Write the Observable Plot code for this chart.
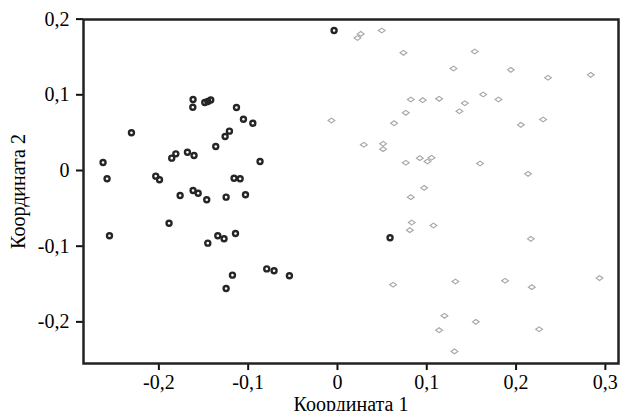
<!DOCTYPE html>
<html><head><meta charset="utf-8">
<script src="https://cdn.jsdelivr.net/npm/d3@7"></script>
<script src="https://cdn.jsdelivr.net/npm/@observablehq/plot@0.6"></script>
<style>body{margin:0;background:#fff}</style>
</head><body><div id="chart"></div>
<script>
const xTicks = [-0.2, -0.1, 0, 0.1, 0.2, 0.3];
const yTicks = [-0.2, -0.1, 0, 0.1, 0.2];
const xLabel = "Координата 1";
const yLabel = "Координата 2";

const darkX = [-0.0038, -0.1617, -0.162, -0.1486, -0.1452, -0.1419, -0.1131, -0.1053, -0.0948, -0.2307, -0.121, -0.1258, -0.1363, -0.168, -0.1606, -0.181, -0.1856, -0.2625, -0.0867, -0.258, -0.2035, -0.1993, -0.1158, -0.109, -0.1762, -0.1617, -0.156, -0.1464, -0.1247, -0.103, -0.1886, -0.2553, -0.1452, -0.134, -0.127, -0.1142, -0.0792, -0.071, -0.0538, -0.1176, -0.1247, 0.0589];
const darkY = [0.185, 0.0938, 0.0836, 0.0898, 0.0912, 0.0932, 0.0832, 0.0678, 0.0625, 0.0498, 0.052, 0.0449, 0.0317, 0.0242, 0.0198, 0.022, 0.0163, 0.0106, 0.0119, -0.011, -0.0075, -0.0123, -0.0102, -0.011, -0.033, -0.0264, -0.030, -0.0387, -0.0352, -0.0321, -0.0696, -0.0863, -0.096, -0.0863, -0.0902, -0.0832, -0.130, -0.1325, -0.139, -0.1383, -0.156, -0.0889];

const lightX = [-0.0067, 0.0224, 0.0261, 0.0496, 0.0739, 0.1537, 0.1299, 0.1941, 0.2358, 0.2836, 0.0821, 0.0955, 0.1138, 0.1632, 0.1803, 0.1426, 0.1366, 0.0765, 0.0634, 0.2053, 0.2303, 0.0295, 0.0511, 0.0511, 0.0765, 0.0922, 0.1008, 0.1053, 0.1597, 0.2134, 0.097, 0.0821, 0.0832, 0.081, 0.1075, 0.2165, 0.0623, 0.1321, 0.1877, 0.2176, 0.2934, 0.1198, 0.1549, 0.1138, 0.2258, 0.131];
const lightY = [0.066, 0.175, 0.1805, 0.185, 0.1555, 0.1572, 0.1347, 0.133, 0.1225, 0.1264, 0.0938, 0.0929, 0.0947, 0.1004, 0.0938, 0.0889, 0.0783, 0.0762, 0.0625, 0.0603, 0.0674, 0.034, 0.0353, 0.0282, 0.0102, 0.0163, 0.0119, 0.0168, 0.0092, -0.0044, -0.0229, -0.0352, -0.0687, -0.0788, -0.0727, -0.0903, -0.151, -0.1466, -0.1457, -0.1541, -0.1422, -0.192, -0.2, -0.211, -0.2097, -0.239];

const dark = darkX.map((x, i) => ({x, y: darkY[i]}));
const light = lightX.map((x, i) => ({x, y: lightY[i]}));
const fmt = d => d === 0 ? "0" : String(+d.toFixed(1)).replace(".", ",");

// flattened diamond outline
const flatDiamond = {
  draw(context, size) {
    const w = 3.4, h = 2.4;
    context.moveTo(-w, 0);
    context.lineTo(0, -h);
    context.lineTo(w, 0);
    context.lineTo(0, h);
    context.closePath();
  }
};

const chart = Plot.plot({
  width: 621,
  height: 411,
  marginLeft: 83,
  marginRight: 3,
  marginTop: 19,
  marginBottom: 48,
  style: {fontFamily: "'Liberation Serif', 'Times New Roman', serif", fontSize: "20px", color: "#000", background: "#fff"},
  x: {domain: [-0.2844, 0.3147]},
  y: {domain: [-0.255, 0.1995]},
  marks: [
    Plot.axisX({ticks: xTicks, tickFormat: fmt, tickSize: 7, tickPadding: 4, stroke: "#111", strokeWidth: 2, fontSize: 20,
      label: xLabel, labelAnchor: "center", labelArrow: "none", labelOffset: 47}),
    Plot.axisY({ticks: yTicks, tickFormat: fmt, tickSize: 7, tickPadding: 7, stroke: "#111", strokeWidth: 2, fontSize: 20,
      label: yLabel, labelAnchor: "center", labelArrow: "none", labelOffset: 73}),
    Plot.dot(light, {x: "x", y: "y", symbol: flatDiamond, stroke: "#a5a5a5", strokeWidth: 1.1}),
    Plot.dot(dark, {x: "x", y: "y", r: 2.5, stroke: "#252525", strokeWidth: 2.4}),
    Plot.frame({stroke: "#222", strokeWidth: 2.5})
  ]
});
document.getElementById("chart").appendChild(chart);
</script>
</body></html>
